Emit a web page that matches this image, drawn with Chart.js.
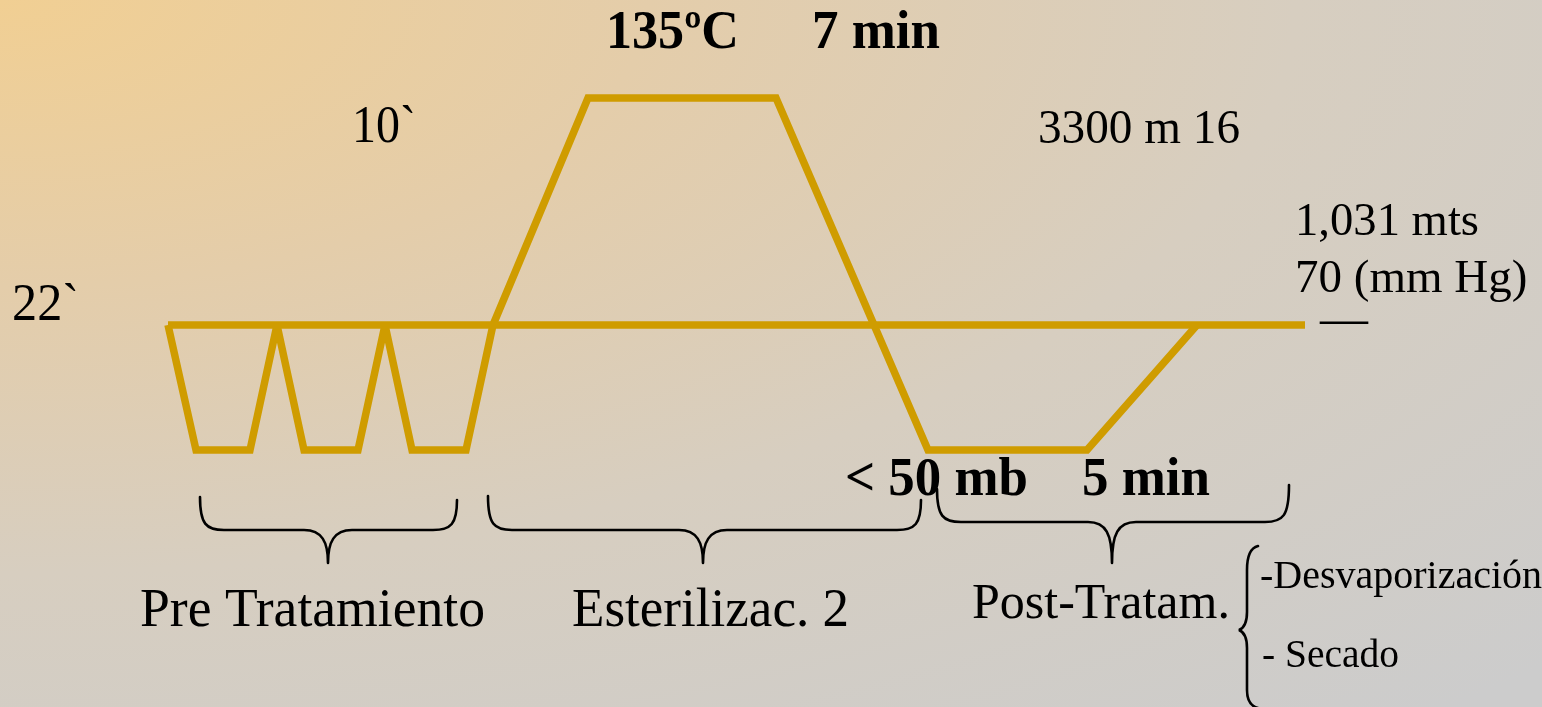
<!DOCTYPE html>
<html lang="es">
<head>
<meta charset="UTF-8" />
<title>Ciclo de esterilización</title>
<script src="https://cdn.jsdelivr.net/npm/chart.js"></script>
<style>
    html, body { margin: 0; padding: 0; }
    body {
        width: 1542px; height: 707px; overflow: hidden;
        background: radial-gradient(ellipse 140% 135% at 0% 0%, #F1CF93 0%, #E4CDAA 30%, #D7CEC0 60%, #CCCCCC 100%);
    }
    #wrap { position: relative; width: 1542px; height: 707px; }
</style>
</head>
<body>
<div id="wrap"><canvas id="cycle"></canvas></div>
<script>
// time axis (arbitrary units) and relative level (0 = atmospheric line)
const baseTime = [16.8, 130.5];
const baseLevel = [0, 0];
const cycleTime = [16.8, 19.6, 25.0, 27.7, 30.4, 35.8, 38.5, 41.2, 46.6, 49.3, 58.8, 77.6, 92.8, 108.7, 119.7];
const cycleLevel = [0, -125, -125, 0, -125, -125, 0, -125, -125, 0, 227, 227, -125, -125, 0];

// phase braces in time units: start, tip, end
const phaseStart = [20.0, 48.8, 93.7];
const phaseTip = [32.8, 70.3, 111.2];
const phaseEnd = [45.7, 92.1, 128.9];

function pts(xs, ys) {
    return xs.map((x, i) => ({ x: x, y: ys[i] }));
}

// text labels: text, x, baseline, font size, bold, width
const labels = [
    ['135ºC', 606, 48, 54, true, 133],
    ['7 min', 812, 48, 54, true, 128],
    ['10`', 352, 142, 52, false, 64],
    ['22`', 12, 320, 52, false, 67],
    ['3300 m 16', 1038, 143, 48, false, 202],
    ['1,031 mts', 1295, 235, 47, false, 184],
    ['70 (mm Hg)', 1295, 292, 47, false, 233],
    ['—', 1320, 334, 48, false, 48],
    ['< 50 mb', 845, 495, 54, true, 183],
    ['5 min', 1082, 495, 54, true, 128],
    ['Pre Tratamiento', 140, 626, 54, false, 345],
    ['Esterilizac. 2', 572, 626, 54, false, 277],
    ['Post-Tratam.', 972, 618, 50, false, 272],
    ['-Desvaporización', 1260, 588, 40, false, 282],
    ['- Secado', 1262, 667, 40, false, 137]
];

const braceRows = [
    { top1: 497, top2: 500, bar: 530, tip: 563 },
    { top1: 496, top2: 500, bar: 530, tip: 563 },
    { top1: 489, top2: 485, bar: 522, tip: 563 }
];

function hBrace(ctx, x1, xt, x2, r) {
    ctx.beginPath();
    ctx.moveTo(x1, r.top1);
    ctx.bezierCurveTo(x1, r.bar - 6, x1 + 6, r.bar, x1 + 24, r.bar);
    ctx.lineTo(xt - 24, r.bar);
    ctx.bezierCurveTo(xt - 6, r.bar, xt, r.bar + 12, xt, r.tip);
    ctx.moveTo(xt, r.tip);
    ctx.bezierCurveTo(xt, r.bar + 12, xt + 6, r.bar, xt + 24, r.bar);
    ctx.lineTo(x2 - 24, r.bar);
    ctx.bezierCurveTo(x2 - 6, r.bar, x2, r.bar - 6, x2, r.top2);
    ctx.stroke();
}

const notes = {
    id: 'notes',
    beforeDatasetsDraw(chart) {
        // keep sharp bottom corners but no spikes at the narrow peaks
        chart.ctx.miterLimit = 2;
    },
    afterDraw(chart) {
        const ctx = chart.ctx;
        const sx = chart.scales.x;
        ctx.save();
        ctx.strokeStyle = '#000';
        ctx.lineWidth = 2.6;
        ctx.lineCap = 'round';
        phaseStart.forEach((s, i) => {
            hBrace(ctx, sx.getPixelForValue(s), sx.getPixelForValue(phaseTip[i]), sx.getPixelForValue(phaseEnd[i]), braceRows[i]);
        });
        // vertical brace for the post-treatment items
        ctx.beginPath();
        ctx.moveTo(1258, 546);
        ctx.bezierCurveTo(1250, 548, 1247, 556, 1247, 570);
        ctx.lineTo(1247, 612);
        ctx.bezierCurveTo(1247, 622, 1244, 628, 1239, 630);
        ctx.bezierCurveTo(1244, 632, 1247, 638, 1247, 648);
        ctx.lineTo(1247, 690);
        ctx.bezierCurveTo(1247, 700, 1250, 706, 1258, 708);
        ctx.stroke();

        ctx.fillStyle = '#000';
        ctx.textBaseline = 'alphabetic';
        ctx.textAlign = 'left';
        labels.forEach(l => {
            ctx.font = (l[4] ? 'bold ' : '') + l[3] + 'px "Liberation Serif", "Times New Roman", serif';
            ctx.fillText(l[0], l[1], l[2], l[5]);
        });
        ctx.restore();
    }
};

new Chart(document.getElementById('cycle'), {
    type: 'scatter',
    data: {
        datasets: [
            { data: pts(baseTime, baseLevel) },
            { data: pts(cycleTime, cycleLevel) }
        ]
    },
    options: {
        responsive: true,
        maintainAspectRatio: false,
        animation: false,
        layout: { padding: 0 },
        elements: {
            line: { borderColor: '#CF9C00', borderWidth: 7.5, tension: 0, borderJoinStyle: 'miter', borderCapStyle: 'butt' },
            point: { radius: 0, hoverRadius: 0 }
        },
        datasets: { scatter: { showLine: true, borderColor: '#CF9C00', clip: false } },
        plugins: { legend: { display: false }, tooltip: { enabled: false } },
        scales: {
            x: { type: 'linear', min: 0, max: 154.2, display: false },
            y: { type: 'linear', min: -382, max: 325, display: false }
        }
    },
    plugins: [notes]
});
</script>
</body>
</html>
